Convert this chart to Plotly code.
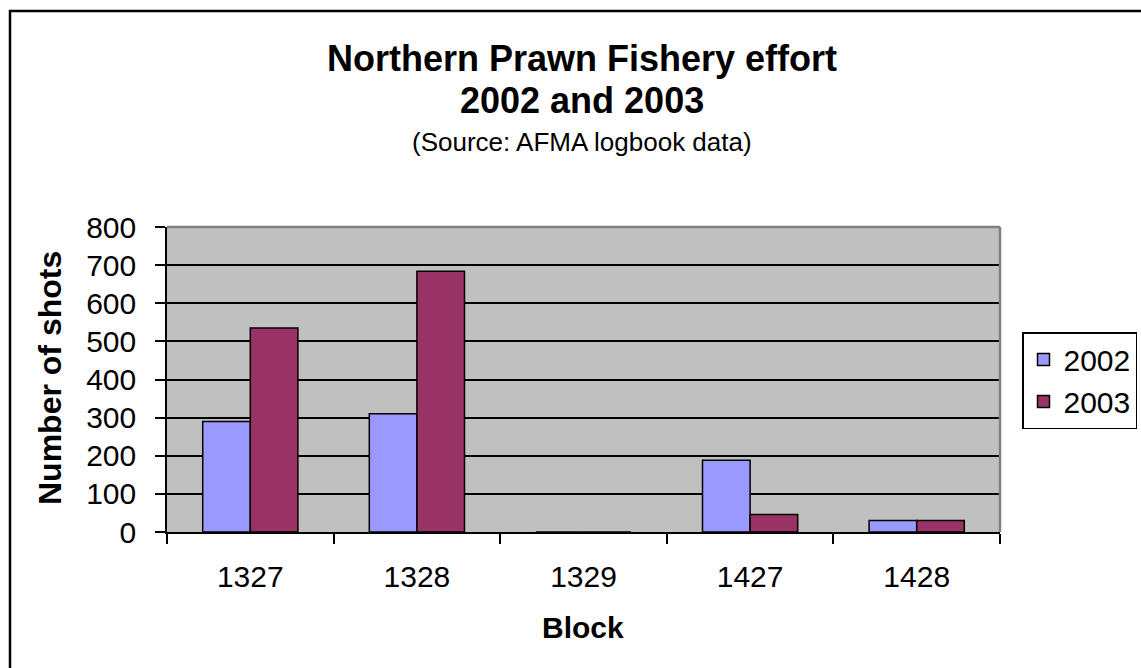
import plotly.graph_objects as go

blocks = ["1327", "1328", "1329", "1427", "1428"]
shots_2002 = [290, 310, 0, 188, 30]
shots_2003 = [535, 684, 0, 46, 30]
series_names = ["2002", "2003"]
y_ticks = [0, 100, 200, 300, 400, 500, 600, 700, 800]

W, H = 1141, 668
L, R, T, B = 167, 1000, 227, 532
FONT = "Liberation Sans, Arial, sans-serif"

def px_x(px):
    return (px - L) / (R - L)

def px_y(py):
    return (B - py) / (B - T)

fig = go.Figure()
fig.add_trace(go.Bar(x=blocks, y=shots_2002, name=series_names[0],
                     marker=dict(color="#9999FF", line=dict(color="black", width=1.5))))
fig.add_trace(go.Bar(x=blocks, y=shots_2003, name=series_names[1],
                     marker=dict(color="#993366", line=dict(color="black", width=1.5))))

fig.update_layout(
    width=W, height=H,
    margin=dict(l=L, r=W - R, t=T, b=H - B, autoexpand=False),
    paper_bgcolor="white", plot_bgcolor="#C0C0C0",
    barmode="group", bargap=0.4286, bargroupgap=0,
    font=dict(family=FONT, color="black", size=30),
    showlegend=True,
    legend=dict(x=px_x(1022), y=px_y(332), xanchor="left", yanchor="top",
                bordercolor="black", borderwidth=1.5, bgcolor="white",
                font=dict(size=30, family=FONT), tracegroupgap=0, itemwidth=30),
)
fig.update_xaxes(type="category", tickson="boundaries", ticks="outside", ticklen=10,
                 tickcolor="black", tickwidth=1.5, showline=True, linecolor="black",
                 linewidth=1.5, showgrid=False, tickfont=dict(size=30, family=FONT),
                 ticklabelstandoff=17)
fig.update_yaxes(range=[0, 800], tickvals=y_ticks, ticks="outside", ticklen=10,
                 tickcolor="black", tickwidth=1.5, showline=True, linecolor="black",
                 linewidth=1.5, showgrid=True, gridcolor="black", gridwidth=1.5,
                 zeroline=False, tickfont=dict(size=30, family=FONT),
                 ticklabelstandoff=13)

# plot area top/right border (grey)
fig.add_shape(type="line", xref="paper", yref="paper", x0=0, x1=1, y0=1, y1=1,
              line=dict(color="#808080", width=2.5))
fig.add_shape(type="line", xref="paper", yref="paper", x0=1, x1=1, y0=0, y1=1,
              line=dict(color="#808080", width=2.5))
# outer chart frame
fig.add_shape(type="rect", xref="paper", yref="paper",
              x0=px_x(10), x1=px_x(1160), y0=px_y(690), y1=px_y(11),
              line=dict(color="black", width=2.5), fillcolor="rgba(0,0,0,0)")

anns = [
    dict(text="<b>Northern Prawn Fishery effort</b>", x=px_x(582), y=px_y(58), size=36),
    dict(text="<b>2002 and 2003</b>", x=px_x(582), y=px_y(100), size=36),
    dict(text="(Source: AFMA logbook data)", x=px_x(582), y=px_y(142), size=26),
    dict(text="<b>Block</b>", x=px_x(583), y=px_y(627), size=30),
]
for a in anns:
    fig.add_annotation(text=a["text"], x=a["x"], y=a["y"], xref="paper", yref="paper",
                       xanchor="center", yanchor="middle", showarrow=False,
                       font=dict(size=a["size"], family=FONT, color="black"))
fig.add_annotation(text="<b>Number of shots</b>", x=px_x(50), y=px_y(378), xref="paper",
                   yref="paper", xanchor="center", yanchor="middle", showarrow=False,
                   textangle=-90, font=dict(size=32, family=FONT, color="black"))

fig.write_html("out.html", config={"displayModeBar": False},
               post_script="document.body.style.margin='0';document.body.style.overflow='hidden';")
